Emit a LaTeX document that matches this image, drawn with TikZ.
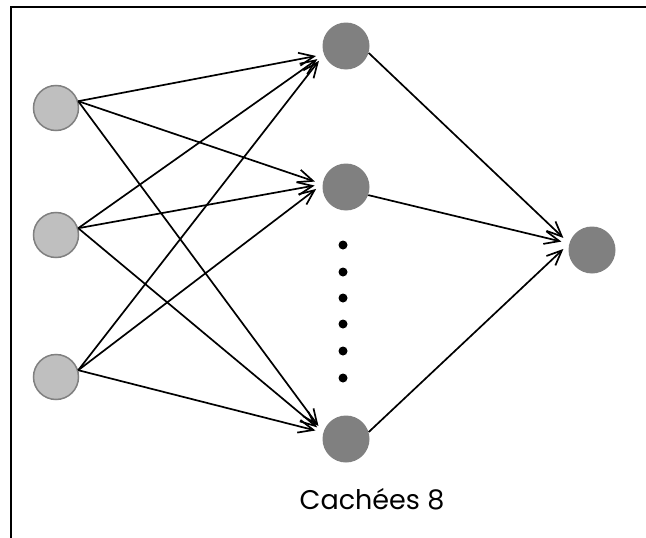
\documentclass[tikz,border=0pt]{standalone}
\usepackage{fontspec}
\setmainfont{Poppins}
\usetikzlibrary{arrows.meta}

\begin{document}
\begin{tikzpicture}[x=1pt, y=-1pt,
    >={Straight Barb[length=15pt,width=13pt,line width=1.7pt]},
    inp/.style={circle, minimum size=45pt, inner sep=0pt, fill=black!25, draw=gray, line width=1.5pt},
    hid/.style={circle, minimum size=47pt, inner sep=0pt, fill=gray},
    link/.style={->, line width=1.7pt, shorten >=8pt}]
  \useasboundingbox (0,0) rectangle (646,538);
  % frame (top and left edges only)
  \draw[line width=2.2pt] (646,7) -- (11,7) -- (11,538);
  % input layer
  \node[inp] (i1) at (56,108) {};
  \node[inp] (i2) at (56,235) {};
  \node[inp] (i3) at (56,377) {};
  % hidden layer
  \node[hid] (h1) at (346,46) {};
  \node[hid] (h2) at (346,187) {};
  \node[hid] (h3) at (346,439) {};
  % output
  \node[hid] (o) at (592,250) {};
  % dots between hidden nodes
  \foreach \y [count=\k] in {245,272,298,324,351,378}
    \node[circle, fill=black, inner sep=0pt, minimum size=9pt] (d\k) at (343,\y) {};
  \node (lbl) at (372,499) {\fontsize{27}{32}\selectfont Cachées 8};
  % input -> hidden
  \foreach \i in {1,2,3} {
    \draw[link] (i\i.17) -- (h1.201);
    \draw[link] (i\i.17) -- (h2.173);
    \draw[link] (i\i.17) -- (h3.164);
  }
  % hidden -> output
  \draw[link] (h1.-17) -- (o.164);
  \draw[link] (h2.-20) -- (o.164);
  \draw[link] (h3.17) -- (o.164);
\end{tikzpicture}
\end{document}
